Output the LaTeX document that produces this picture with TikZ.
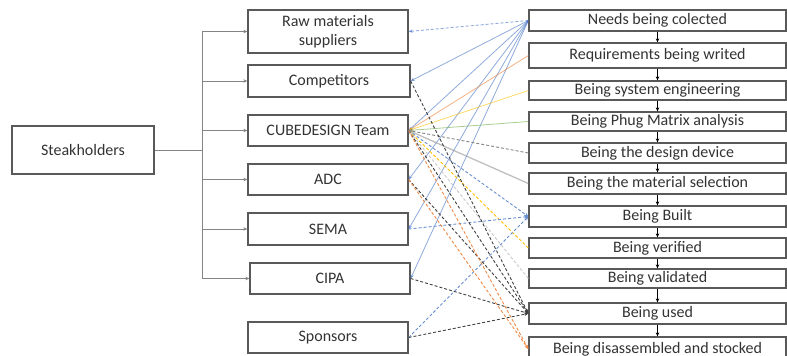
\documentclass[tikz,border=0pt]{standalone}
\usepackage{fontspec}
\setmainfont{Carlito}
\usetikzlibrary{arrows.meta}
\definecolor{boxgray}{HTML}{595959}
\definecolor{officeblue}{HTML}{4472C4}
\definecolor{officeorange}{HTML}{ED7D31}
\definecolor{officeyellow}{HTML}{FFC000}
\definecolor{officegreen}{HTML}{70AD47}
\definecolor{officegray}{HTML}{A5A5A5}
\definecolor{officedark}{HTML}{404040}
\begin{document}
\begin{tikzpicture}[x=1pt,y=-1pt,>={Stealth[length=4pt,width=3.5pt]},
    stakebox/.style={draw=boxgray,line width=1.3pt,minimum width=160pt,inner sep=0pt,align=center,text=black!80,font=\fontsize{16}{19}\selectfont},
    taskbox/.style={draw=boxgray,line width=1.3pt,minimum width=257pt,inner sep=0pt,text=black!80,font=\fontsize{16}{19}\selectfont},
    branch/.style={draw=officegray!80!black,line width=0.8pt},
    solidlink/.style={line width=0.8pt,opacity=0.6},
    dashlink/.style={line width=0.9pt,dash pattern=on 3pt off 2pt}]
\useasboundingbox (0,0) rectangle (787,356);
% stakeholders
\node[stakebox,minimum width=142pt,minimum height=48pt](steak) at (83,150){Steakholders};
\node[stakebox,minimum height=43pt](raw) at (328,31.5){Raw materials\\suppliers};
\node[stakebox,minimum width=162pt,minimum height=32pt](comp) at (329,81){Competitors};
\node[stakebox,minimum height=31pt](cube) at (328,130.5){CUBEDESIGN Team};
\node[stakebox,minimum height=31pt](adc) at (328,179.5){ADC};
\node[stakebox,minimum height=32pt](sema) at (328,229){SEMA};
\node[stakebox,minimum height=31pt](cipa) at (330,278.5){CIPA};
\node[stakebox,minimum height=31pt](spons) at (328,337.5){Sponsors};
% life cycle
\node[taskbox,minimum height=21pt](needs) at (657.5,20.5){Needs being colected};
\node[taskbox,minimum height=25pt](req) at (657.5,55.5){Requirements being writed};
\node[taskbox,minimum height=19pt](syseng) at (657.5,90.5){Being system engineering};
\node[taskbox,minimum height=19pt](phug) at (657.5,121.5){Being Phug Matrix analysis};
\node[taskbox,minimum height=20pt](design) at (657.5,153){Being the design device};
\node[taskbox,minimum height=21pt](mat) at (657.5,183.5){Being the material selection};
\node[taskbox,minimum height=21pt](built) at (657.5,216.5){Being Built};
\node[taskbox,minimum height=20pt](verif) at (657.5,248){Being verified};
\node[taskbox,minimum height=19pt](valid) at (657.5,278.5){Being validated};
\node[taskbox,minimum height=21pt](used) at (657.5,313.5){Being used};
\node[taskbox,minimum height=24pt](disas) at (657.5,349){Being disassembled and stocked};
% tree
\coordinate (fork) at (202,150);
\draw[branch] (steak.east)--(fork);
\draw[branch] (fork|-raw.west)--(fork|-cipa.west);
\foreach \s in {raw,comp,cube,adc,sema,cipa}
    \draw[branch,->] (fork|-\s.west)--(\s.west);
\foreach \a/\b in {needs/req,req/syseng,syseng/phug,phug/design,design/mat,mat/built,built/verif,verif/valid,valid/used,used/disas}
    \draw[line width=0.6pt,->] (\a.south)--(\b.north);
% links
\draw[solidlink,officeblue,dashlink,->] (needs.west)--(raw.east);
\foreach \s in {comp,cube,adc,sema,cipa}
    \draw[solidlink,officeblue,->] (needs.west)--(\s.east);
\draw[solidlink,officeorange,->] (req.west)--(cube.east);
\draw[solidlink,officeyellow,->] (syseng.west)--(cube.east);
\draw[solidlink,officegreen,->] (phug.west)--(cube.east);
\draw[dashlink,officegray!80!black,->] (design.west)--(cube.east);
\draw[solidlink,officegray!90!black,line width=1.3pt,->] (mat.west)--(cube.east);
\draw[dashlink,officeyellow,->] (verif.west)--(cube.east);
\draw[dashlink,officegray!60,->] (valid.west)--(cube.east);
\draw[dashlink,officeblue!80,->] (cube.east)--(built.west);
\draw[dashlink,officeblue!80,->] (sema.east)--(built.west);
\draw[dashlink,officeblue!80,->] (spons.east)--(built.west);
\foreach \s in {comp,cube,adc,cipa,spons}
    \draw[dashlink,officedark,->] (\s.east)--(used.west);
\foreach \s in {cube,adc}
    \draw[dashlink,officeorange!90,->] (\s.east)--(disas.west);
\end{tikzpicture}
\end{document}
